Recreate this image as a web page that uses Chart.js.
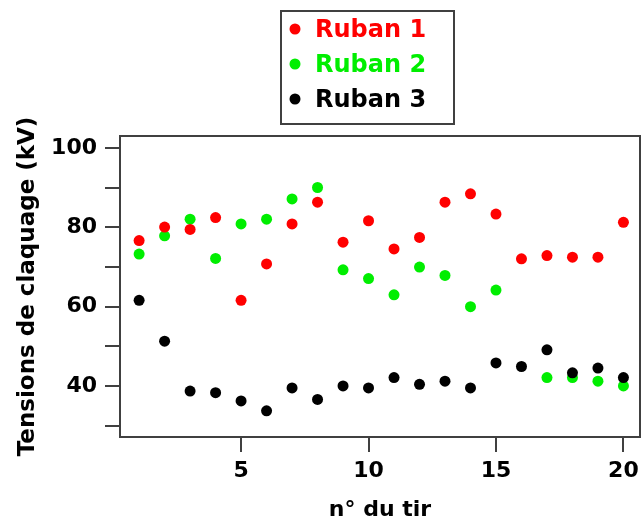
<!DOCTYPE html>
<html>
<head>
<meta charset="utf-8">
<script src="https://cdn.jsdelivr.net/npm/chart.js@4/dist/chart.umd.min.js"></script>
<style>
  body { margin: 0; background: #fff; }
  canvas { display: block; }
</style>
</head>
<body>
<canvas id="myChart" width="641" height="525"></canvas>
<script>
const shots = [1, 2, 3, 4, 5, 6, 7, 8, 9, 10, 11, 12, 13, 14, 15, 16, 17, 18, 19, 20];
const ruban1 = [76.7, 80.1, 79.5, 82.5, 61.6, 70.8, 80.9, 86.4, 76.3, 81.7, 74.6, 77.5, 86.4, 88.5, 83.4, 72.1, 72.9, 72.5, 72.5, 81.3];
const ruban2 = [73.3, 77.9, 82.1, 72.2, 80.9, 82.1, 87.2, 90.1, 69.3, 67.1, 63.0, 70.0, 67.9, 60.0, 64.2, null, 42.1, 42.1, 41.2, 40.0];
const ruban3 = [61.6, 51.3, 38.7, 38.3, 36.2, 33.7, 39.5, 36.6, 40.0, 39.5, 42.1, 40.4, 41.2, 39.5, 45.8, 44.9, 49.1, 43.3, 44.5, 42.1];
const seriesNames = ['Ruban 1', 'Ruban 2', 'Ruban 3'];
const xTitle = 'n° du tir';
const yTitle = 'Tensions de claquage (kV)';

const colors = ['#ff0000', '#00ee00', '#000000'];
const frameColor = '#404040';
const fontFamily = '"DejaVu Sans", sans-serif';

function toPoints(values) {
    return shots.map((s, i) => ({ x: s, y: values[i] }));
}

// box around the plot area + the legend box at the top
const framePlugin = {
    id: 'frame',
    afterDraw(chart) {
        const ctx = chart.ctx;
        const a = chart.chartArea;
        ctx.save();
        ctx.strokeStyle = frameColor;
        ctx.lineWidth = 2;
        ctx.strokeRect(a.left, a.top, a.right - a.left, a.bottom - a.top);

        // legend
        ctx.strokeRect(281, 11, 173, 113);
        const rows = [31, 66, 101];
        ctx.font = 'bold 24px ' + fontFamily;
        ctx.textBaseline = 'middle';
        chart.data.datasets.forEach((ds, i) => {
            ctx.fillStyle = ds.backgroundColor;
            ctx.beginPath();
            ctx.arc(295, rows[i] - 2, 5.5, 0, Math.PI * 2);
            ctx.fill();
            ctx.fillText(ds.label, 315, rows[i]);
        });
        ctx.restore();
    }
};

const ctx = document.getElementById('myChart').getContext('2d');
new Chart(ctx, {
    type: 'scatter',
    data: {
        datasets: [
            { label: seriesNames[0], data: toPoints(ruban1), backgroundColor: colors[0], order: 1 },
            { label: seriesNames[1], data: toPoints(ruban2), backgroundColor: colors[1], order: 3 },
            { label: seriesNames[2], data: toPoints(ruban3), backgroundColor: colors[2], order: 2 }
        ]
    },
    options: {
        responsive: false,
        animation: false,
        layout: {
            autoPadding: false,
            padding: { top: 136, right: 1, left: 0, bottom: 0 }
        },
        elements: {
            point: { radius: 5.5, borderWidth: 0, hoverRadius: 5.5 }
        },
        plugins: {
            legend: { display: false },
            tooltip: { enabled: false }
        },
        scales: {
            x: {
                type: 'linear',
                min: 0.25,
                max: 20.65,
                afterFit(scale) {
                    scale.height = 88;
                    scale.paddingLeft = 0;
                    scale.paddingRight = 0;
                },
                grid: {
                    drawOnChartArea: false,
                    drawTicks: true,
                    tickLength: 15,
                    lineWidth: 2,
                    color: frameColor
                },
                border: { display: true, width: 2, color: frameColor },
                ticks: {
                    stepSize: 5,
                    includeBounds: false,
                    padding: 6,
                    color: '#000',
                    font: { family: fontFamily, size: 22, weight: 'bold' }
                },
                title: {
                    display: true,
                    text: xTitle,
                    color: '#000',
                    padding: { top: 0, bottom: 2 },
                    font: { family: fontFamily, size: 22, weight: 'bold' }
                }
            },
            y: {
                min: 27.1,
                max: 103.1,
                afterFit(scale) {
                    scale.width = 120;
                    scale.paddingTop = 0;
                    scale.paddingBottom = 0;
                },
                grid: {
                    drawOnChartArea: false,
                    drawTicks: true,
                    tickLength: 15,
                    lineWidth: 2,
                    color: frameColor
                },
                border: { display: true, width: 2, color: frameColor },
                ticks: {
                    stepSize: 10,
                    includeBounds: false,
                    padding: 8,
                    color: '#000',
                    font: { family: fontFamily, size: 22, weight: 'bold' },
                    callback: (v) => (v % 20 === 0 ? v : '')
                },
                title: {
                    display: true,
                    text: yTitle,
                    color: '#000',
                    padding: { top: 14, bottom: 0 },
                    font: { family: fontFamily, size: 23, weight: 'bold' }
                }
            }
        }
    },
    plugins: [framePlugin]
});
</script>
</body>
</html>
